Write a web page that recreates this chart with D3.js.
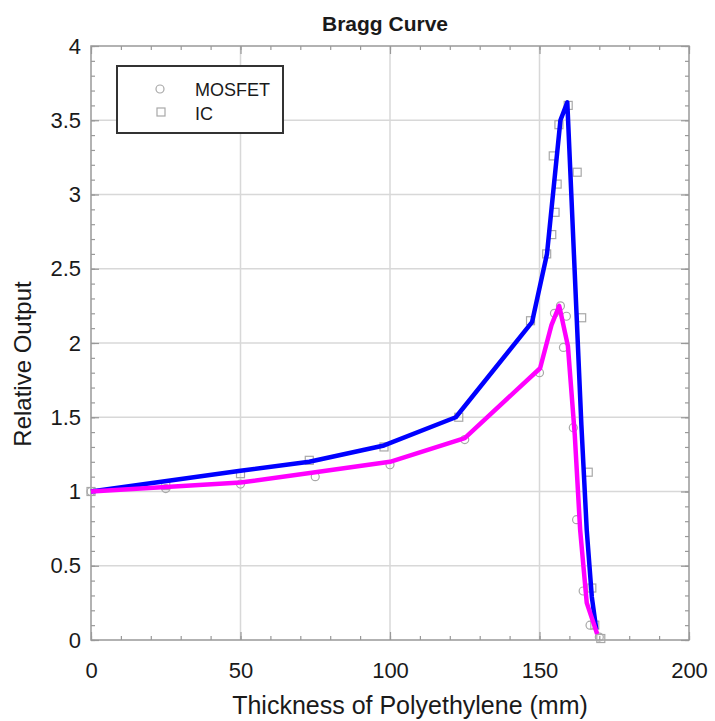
<!DOCTYPE html>
<html><head><meta charset="utf-8">
<script src="https://cdn.jsdelivr.net/npm/d3@7/dist/d3.min.js"></script>
<style>body{margin:0;background:#fff}svg{display:block}</style>
</head><body>
<script>
// Line data
const icLineX = [0, 50, 73, 98, 122, 147.5, 152.5, 157, 159.3, 164, 165.8, 167.5, 169];
const icLineY = [1, 1.14, 1.2, 1.31, 1.5, 2.14, 2.6, 3.5, 3.62, 1.45, 0.74, 0.29, 0.07];
const mosLineX = [0, 50, 75, 100, 125, 150.2, 154, 156.6, 159.5, 161.8, 163.6, 165.8, 169.3];
const mosLineY = [1, 1.06, 1.13, 1.2, 1.36, 1.83, 2.12, 2.25, 1.98, 1.38, 0.74, 0.25, 0.04];
// Marker data
const mosPtsX = [0, 25, 50, 75, 100, 125, 150, 155, 157, 159, 158, 161.3, 162.4, 164.6, 166.9, 170];
const mosPtsY = [1.0, 1.02, 1.05, 1.1, 1.18, 1.35, 1.8, 2.2, 2.25, 2.18, 1.97, 1.43, 0.81, 0.33, 0.10, 0.02];
const icPtsX = [0, 25, 50, 73, 98, 123, 147, 152.4, 154.1, 155.2, 155.9, 154.6, 156.5, 159.6, 162.6, 164.1, 166.3, 167.5, 168.5, 170.5];
const icPtsY = [1.0, 1.04, 1.12, 1.21, 1.3, 1.5, 2.15, 2.6, 2.73, 2.88, 3.07, 3.26, 3.47, 3.6, 3.15, 2.17, 1.13, 0.35, 0.1, 0.01];
const xTicks = [0, 50, 100, 150, 200];
const yTicks = [0, 0.5, 1, 1.5, 2, 2.5, 3, 3.5, 4];
const legendLabels = ["MOSFET", "IC"];

const W = 715, H = 721;
const L = 91, R = 689, T = 46, B = 640;
const svg = d3.select("body").append("svg").attr("width", W).attr("height", H);
const x = d3.scaleLinear().domain([0, 200]).range([L, R]);
const y = d3.scaleLinear().domain([0, 4]).range([B, T]);
const font = "'Liberation Sans', Arial, Helvetica, sans-serif";
const txtCol = "#1a1a1a";

// grid
svg.append("g").selectAll("line").data(xTicks.slice(1, -1)).join("line")
  .attr("x1", d => x(d)).attr("x2", d => x(d)).attr("y1", T).attr("y2", B)
  .attr("stroke", "#d8d8d8").attr("stroke-width", 1.5);
svg.append("g").selectAll("line").data(yTicks.slice(1, -1)).join("line")
  .attr("y1", d => y(d)).attr("y2", d => y(d)).attr("x1", L).attr("x2", R)
  .attr("stroke", "#d8d8d8").attr("stroke-width", 1.5);

// axes with inward ticks on all sides
const tickCol = "#999";
function axes() {
  const xMinor = d3.range(0, 201, 10);
  const yMinor = d3.range(0, 41, 1).map(d => d / 10);
  const gx1 = svg.append("g").attr("transform", `translate(0,${B})`)
    .call(d3.axisBottom(x).tickValues(xMinor).tickSize(-4).tickFormat(""));
  const gx2 = svg.append("g").attr("transform", `translate(0,${T})`)
    .call(d3.axisTop(x).tickValues(xMinor).tickSize(-4).tickFormat(""));
  const gx3 = svg.append("g").attr("transform", `translate(0,${B})`)
    .call(d3.axisBottom(x).tickValues(xTicks).tickSize(-8).tickPadding(22).tickFormat(d3.format("d")));
  const gx4 = svg.append("g").attr("transform", `translate(0,${T})`)
    .call(d3.axisTop(x).tickValues(xTicks).tickSize(-8).tickFormat(""));
  const gy1 = svg.append("g").attr("transform", `translate(${L},0)`)
    .call(d3.axisLeft(y).tickValues(yMinor).tickSize(-4).tickFormat(""));
  const gy2 = svg.append("g").attr("transform", `translate(${R},0)`)
    .call(d3.axisRight(y).tickValues(yMinor).tickSize(-4).tickFormat(""));
  const gy3 = svg.append("g").attr("transform", `translate(${L},0)`)
    .call(d3.axisLeft(y).tickValues(yTicks).tickSize(-8).tickPadding(10).tickFormat(d => d));
  const gy4 = svg.append("g").attr("transform", `translate(${R},0)`)
    .call(d3.axisRight(y).tickValues(yTicks).tickSize(-8).tickFormat(""));
  [gx1, gx2, gx3, gx4, gy1, gy2, gy3, gy4].forEach(g => {
    g.select(".domain").remove();
    g.selectAll(".tick line").attr("stroke", tickCol).attr("stroke-width", 1.2);
    g.selectAll(".tick text").attr("font-family", font).attr("font-size", 22).attr("fill", txtCol);
  });
}
axes();
svg.append("rect").attr("x", L).attr("y", T).attr("width", R - L).attr("height", B - T)
  .attr("fill", "none").attr("stroke", tickCol).attr("stroke-width", 1.5);

// markers
const mkCol = "#a8a8a8";
svg.append("g").selectAll("circle").data(d3.zip(mosPtsX, mosPtsY)).join("circle")
  .attr("cx", d => x(d[0])).attr("cy", d => y(d[1])).attr("r", 4)
  .attr("fill", "none").attr("stroke", mkCol).attr("stroke-width", 1.2);
svg.append("g").selectAll("rect").data(d3.zip(icPtsX, icPtsY)).join("rect")
  .attr("x", d => x(d[0]) - 4).attr("y", d => y(d[1]) - 4).attr("width", 8).attr("height", 8)
  .attr("fill", "none").attr("stroke", mkCol).attr("stroke-width", 1.2);

// lines
const line = d3.line().x(d => x(d[0])).y(d => y(d[1]));
svg.append("path").datum(d3.zip(icLineX, icLineY)).attr("d", line)
  .attr("fill", "none").attr("stroke", "#0000ff").attr("stroke-width", 4.5).attr("stroke-linejoin", "round");
svg.append("path").datum(d3.zip(mosLineX, mosLineY)).attr("d", line)
  .attr("fill", "none").attr("stroke", "#ff00ff").attr("stroke-width", 4.5).attr("stroke-linejoin", "round");

// legend
const lg = svg.append("g");
lg.append("rect").attr("x", 117).attr("y", 66).attr("width", 166).attr("height", 67)
  .attr("fill", "#fff").attr("stroke", "#333").attr("stroke-width", 2);
lg.append("circle").attr("cx", 160).attr("cy", 89).attr("r", 4).attr("fill", "none").attr("stroke", mkCol).attr("stroke-width", 1.2);
lg.append("rect").attr("x", 157).attr("y", 108).attr("width", 8).attr("height", 8).attr("fill", "none").attr("stroke", mkCol).attr("stroke-width", 1.2);
lg.selectAll("text").data(legendLabels).join("text")
  .attr("x", 195).attr("y", (d, i) => 96 + i * 24).text(d => d)
  .attr("font-family", font).attr("font-size", 18).attr("fill", txtCol);

// titles
svg.append("text").attr("x", 385).attr("y", 31).attr("text-anchor", "middle")
  .attr("font-family", font).attr("font-size", 21).attr("font-weight", "bold").attr("fill", txtCol).text("Bragg Curve");
svg.append("text").attr("x", 410).attr("y", 714).attr("text-anchor", "middle")
  .attr("font-family", font).attr("font-size", 25).attr("fill", txtCol).text("Thickness of Polyethylene (mm)");
svg.append("text").attr("transform", `translate(31,364) rotate(-90)`).attr("text-anchor", "middle")
  .attr("font-family", font).attr("font-size", 24).attr("fill", txtCol).text("Relative Output");
</script>
</body></html>
